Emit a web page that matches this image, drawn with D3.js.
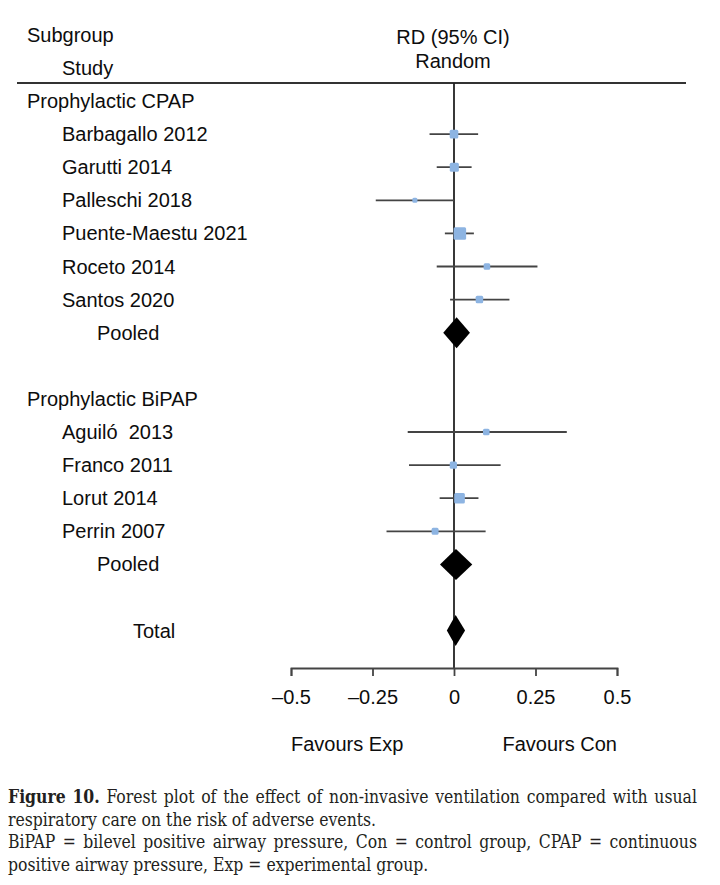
<!DOCTYPE html>
<html>
<head>
<meta charset="utf-8">
<script src="https://cdn.jsdelivr.net/npm/d3@7"></script>
<style>
  html, body { margin: 0; padding: 0; background: #fff; }
  svg { display: block; }
</style>
</head>
<body>
<svg id="chart" width="720" height="885"></svg>
<script>
// ---------------- DATA ----------------
const groups = ["Prophylactic CPAP", "Prophylactic BiPAP"];
const studies = ["Barbagallo 2012", "Garutti 2014", "Palleschi 2018", "Puente-Maestu 2021",
                 "Roceto 2014", "Santos 2020",
                 "Aguiló  2013", "Franco 2011", "Lorut 2014", "Perrin 2007"];
const studyGroup = [0, 0, 0, 0, 0, 0, 1, 1, 1, 1];
const rd     = [0.000, 0.001, -0.120, 0.018, 0.101, 0.078, 0.099, -0.002, 0.017, -0.058];
const ciLow  = [-0.075, -0.053, -0.240, -0.028, -0.053, -0.012, -0.142, -0.138, -0.044, -0.207];
const ciHigh = [0.074, 0.054, 0.000, 0.061, 0.256, 0.170, 0.346, 0.143, 0.075, 0.097];
const weight = [17, 19, 6, 36, 10, 13, 10, 12, 26, 11];

const pooledLabels = ["Pooled", "Pooled", "Total"];
const pooledRD   = [0.008, 0.006, 0.005];
const pooledLow  = [-0.033, -0.043, -0.022];
const pooledHigh = [0.049, 0.056, 0.034];

const xTicks = [-0.5, -0.25, 0, 0.25, 0.5];
const xTickLabels = ["–0.5", "–0.25", "0", "0.25", "0.5"];

const headerLeft = ["Subgroup", "Study"];
const headerRight = ["RD (95% CI)", "Random"];
const favours = ["Favours Exp", "Favours Con"];

const captionLines = [
  "Figure 10. Forest plot of the effect of non-invasive ventilation compared with usual",
  "respiratory care on the risk of adverse events.",
  "BiPAP = bilevel positive airway pressure, Con = control group, CPAP = continuous",
  "positive airway pressure, Exp = experimental group."
];

// ---------------- LAYOUT ----------------
const svg = d3.select("#chart");
const FONT = "'Liberation Sans', Arial, Helvetica, sans-serif";
const FS = 20;
const TXT = "#0d0d0d";

// build rows
const rows = [];
groups.forEach((g, gi) => {
  rows.push({type: "group", label: g});
  studies.forEach((s, i) => {
    if (studyGroup[i] === gi) rows.push({type: "study", label: s, i});
  });
  rows.push({type: "pooled", label: pooledLabels[gi], p: gi});
  rows.push({type: "blank"});
});
rows.push({type: "total", label: pooledLabels[2], p: 2});

const x = d3.scaleLinear().domain([-0.5, 0.5]).range([291, 617]);
const y = d3.scaleLinear().domain([0, rows.length - 1]).range([101, 630.6]);
const size = d3.scaleSqrt().domain([0, 36]).range([0, 12.5]);

const indent = {group: 27, study: 62, pooled: 97, total: 133};

// header
svg.append("text").attr("x", 27).attr("y", 42).text(headerLeft[0]);
svg.append("text").attr("x", 62).attr("y", 75).text(headerLeft[1]);
svg.append("text").attr("x", 453).attr("y", 44).attr("text-anchor", "middle").text(headerRight[0]);
svg.append("text").attr("x", 453).attr("y", 68).attr("text-anchor", "middle").text(headerRight[1]);
svg.selectAll("text").attr("font-family", FONT).attr("font-size", FS).attr("fill", TXT);

svg.append("line").attr("x1", 17).attr("x2", 686).attr("y1", 83).attr("y2", 83)
  .attr("stroke", "#333").attr("stroke-width", 1.8);

// vertical zero line
svg.append("line").attr("x1", x(0)).attr("x2", x(0)).attr("y1", 83).attr("y2", 668)
  .attr("stroke", "#222").attr("stroke-width", 1.8);

// row labels
rows.forEach((r, ri) => {
  if (r.type === "blank") return;
  svg.append("text")
    .attr("x", indent[r.type]).attr("y", y(ri) + 7)
    .attr("font-family", FONT).attr("font-size", FS).attr("fill", TXT)
    .attr("xml:space", "preserve")
    .text(r.label);
});

// study CIs and markers
rows.forEach((r, ri) => {
  if (r.type !== "study") return;
  const i = r.i, cy = y(ri);
  svg.append("line").attr("x1", x(ciLow[i])).attr("x2", x(ciHigh[i]))
    .attr("y1", cy).attr("y2", cy).attr("stroke", "#444").attr("stroke-width", 1.8);
  const s = size(weight[i]);
  svg.append("rect").attr("x", x(rd[i]) - s / 2).attr("y", cy - s / 2)
    .attr("width", s).attr("height", s).attr("rx", Math.min(1.5, s / 3))
    .attr("fill", "#8db4e2");
});

// diamonds
rows.forEach((r, ri) => {
  if (r.type !== "pooled" && r.type !== "total") return;
  const p = r.p, cy = y(ri), h = 15.5;
  const pts = [[x(pooledLow[p]), cy], [x(pooledRD[p]), cy - h], [x(pooledHigh[p]), cy], [x(pooledRD[p]), cy + h]];
  svg.append("path").attr("d", "M" + pts.map(d => d.join(",")).join("L") + "Z").attr("fill", "#000");
});

// axis
const axis = d3.axisBottom(x).tickValues(xTicks).tickSize(8).tickSizeOuter(8).tickPadding(14)
  .tickFormat((d, i) => xTickLabels[i]);
const ax = svg.append("g").attr("transform", "translate(0,668)").call(axis);
ax.select(".domain").attr("stroke", "#444").attr("stroke-width", 1.8);
ax.selectAll(".tick line").attr("stroke", "#444").attr("stroke-width", 1.8);
ax.selectAll(".tick text").attr("font-family", FONT).attr("font-size", FS).attr("fill", TXT);
ax.attr("font-family", FONT).attr("font-size", FS);

svg.append("text").attr("x", x(-0.5)).attr("y", 751).attr("text-anchor", "start")
  .attr("font-family", FONT).attr("font-size", FS).attr("fill", TXT).text(favours[0]);
svg.append("text").attr("x", x(0.5)).attr("y", 751).attr("text-anchor", "end")
  .attr("font-family", FONT).attr("font-size", FS).attr("fill", TXT).text(favours[1]);

// ---------------- CAPTION ----------------
const CFONT = "'DejaVu Serif Condensed', 'DejaVu Serif', serif";
const CFS = 19;
const capLeft = 8, capRight = 697;
const capY = [803.5, 826, 848.5, 871];
const cap = svg.append("g");

function measure(str, bold) {
  const t = cap.append("text").attr("font-family", CFONT).attr("font-size", CFS)
    .attr("font-weight", bold ? "bold" : "normal").attr("xml:space", "preserve").text(str);
  const w = t.node().getComputedTextLength();
  t.remove();
  return w;
}
// fit scale from the natural (non-justified) lines
const sFit = (417 + 372) / (measure(captionLines[3]) + measure(captionLines[1]));
const g = cap.append("g").attr("transform", `translate(${capLeft},0) scale(${sFit},1)`);
const targetW = (capRight - capLeft) / sFit;

function drawLine(line, li, justify, boldWords) {
  const words = line.split(" ");
  if (!justify) {
    g.append("text").attr("x", 0).attr("y", capY[li]).attr("font-family", CFONT)
      .attr("font-size", CFS).attr("fill", "#231f20").text(line);
    return;
  }
  const widths = words.map((w, k) => measure(w, k < boldWords));
  const total = d3.sum(widths);
  const gap = (targetW - total) / (words.length - 1);
  let cx = 0;
  words.forEach((w, k) => {
    g.append("text").attr("x", cx).attr("y", capY[li]).attr("font-family", CFONT)
      .attr("font-size", CFS).attr("font-weight", k < boldWords ? "bold" : "normal")
      .attr("fill", "#231f20").text(w);
    cx += widths[k] + gap;
  });
}
drawLine(captionLines[0], 0, true, 2);
drawLine(captionLines[1], 1, false, 0);
drawLine(captionLines[2], 2, true, 0);
drawLine(captionLines[3], 3, false, 0);
</script>
</body>
</html>
